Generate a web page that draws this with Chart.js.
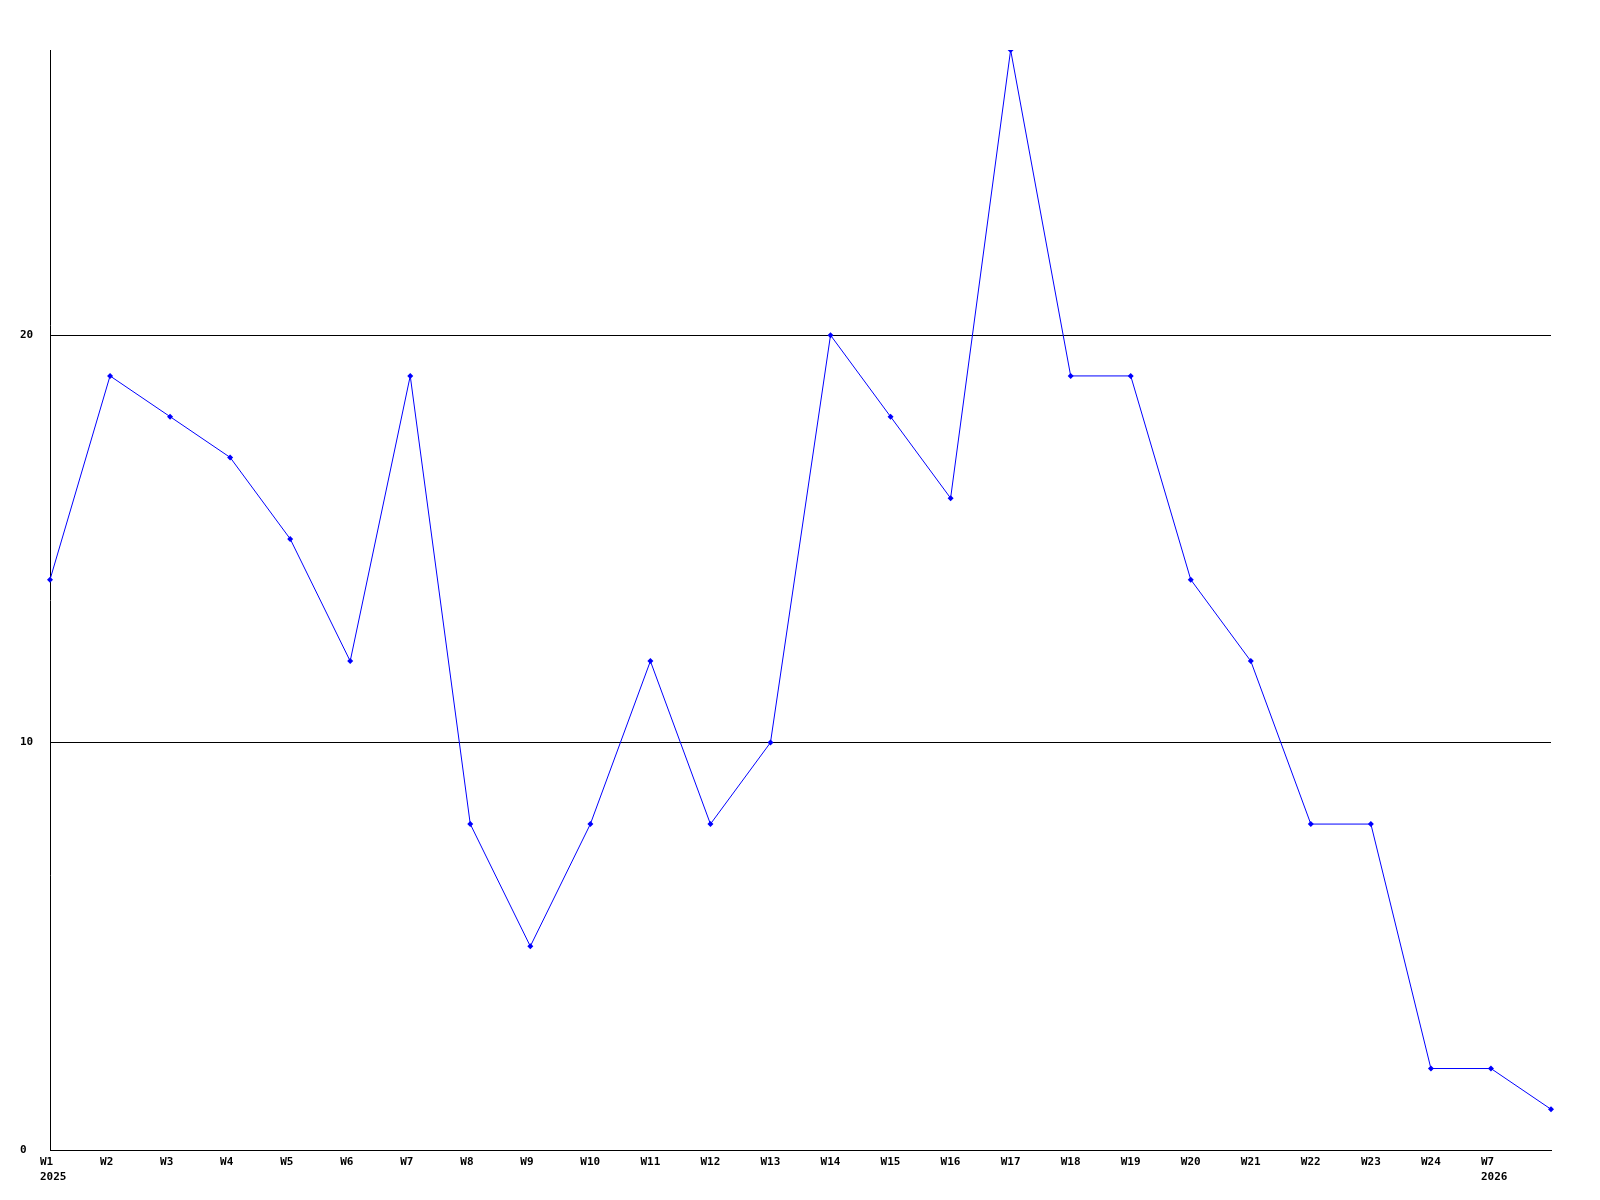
<!DOCTYPE html>
<html>
<head>
<meta charset="utf-8">
<script src="https://cdn.jsdelivr.net/npm/chart.js@4"></script>
<style>
html,body{margin:0;padding:0;background:#fff;}
canvas{display:block;}
</style>
</head>
<body>
<canvas id="c" width="1600" height="1200"></canvas>
<script>
const weeks = ['W1','W2','W3','W4','W5','W6','W7','W8','W9','W10','W11','W12','W13','W14','W15','W16','W17','W18','W19','W20','W21','W22','W23','W24','W7',''];
const years = ['2025','','','','','','','','','','','','','','','','','','','','','','','','2026',''];
const values = [14,19,18,17,15,12,19,8,5,8,12,8,10,20,18,16,27,19,19,14,12,8,8,2,2,1];
const yTicks = [0,10,20];
const yMax = 27;

const labels = weeks.map((w,i)=> years[i] ? [w, years[i]] : w);
const font = {family:"'DejaVu Sans Mono', monospace", size:11, weight:'bold', lineHeight:'15px'};

new Chart(document.getElementById('c'), {
  type:'line',
  data:{
    labels: labels,
    datasets:[{
      data: values,
      borderColor:'#0000ff',
      backgroundColor:'#0000ff',
      borderWidth:1,
      tension:0,
      pointStyle:'rectRot',
      pointRadius:3,
      pointBorderWidth:0,
      pointHoverRadius:3,
      fill:false
    }]
  },
  options:{
    responsive:false,
    animation:false,
    events:[],
    layout:{padding:{left:20,right:49,top:50,bottom:0}},
    plugins:{legend:{display:false},tooltip:{enabled:false}},
    scales:{
      x:{
        type:'category',
        offset:false,
        grid:{display:true,color:'rgba(0,0,0,0)',drawTicks:false},
        border:{display:true,color:'#000',width:1},
        ticks:{
          autoSkip:false,maxRotation:0,minRotation:0,
          align:'start',labelOffset:-10,padding:5,
          color:'#000',font:font
        },
        afterFit:(s)=>{s.height=50;}
      },
      y:{
        min:0,max:yMax,
        grid:{display:true,color:'#000',lineWidth:1,drawTicks:false},
        border:{display:true,color:'#000',width:1},
        ticks:{crossAlign:'far',color:'#000',font:font,padding:0},
        afterBuildTicks:(s)=>{s.ticks=yTicks.map(v=>({value:v}));},
        afterFit:(s)=>{s.width=30;}
      }
    }
  }
});
</script>
</body>
</html>
